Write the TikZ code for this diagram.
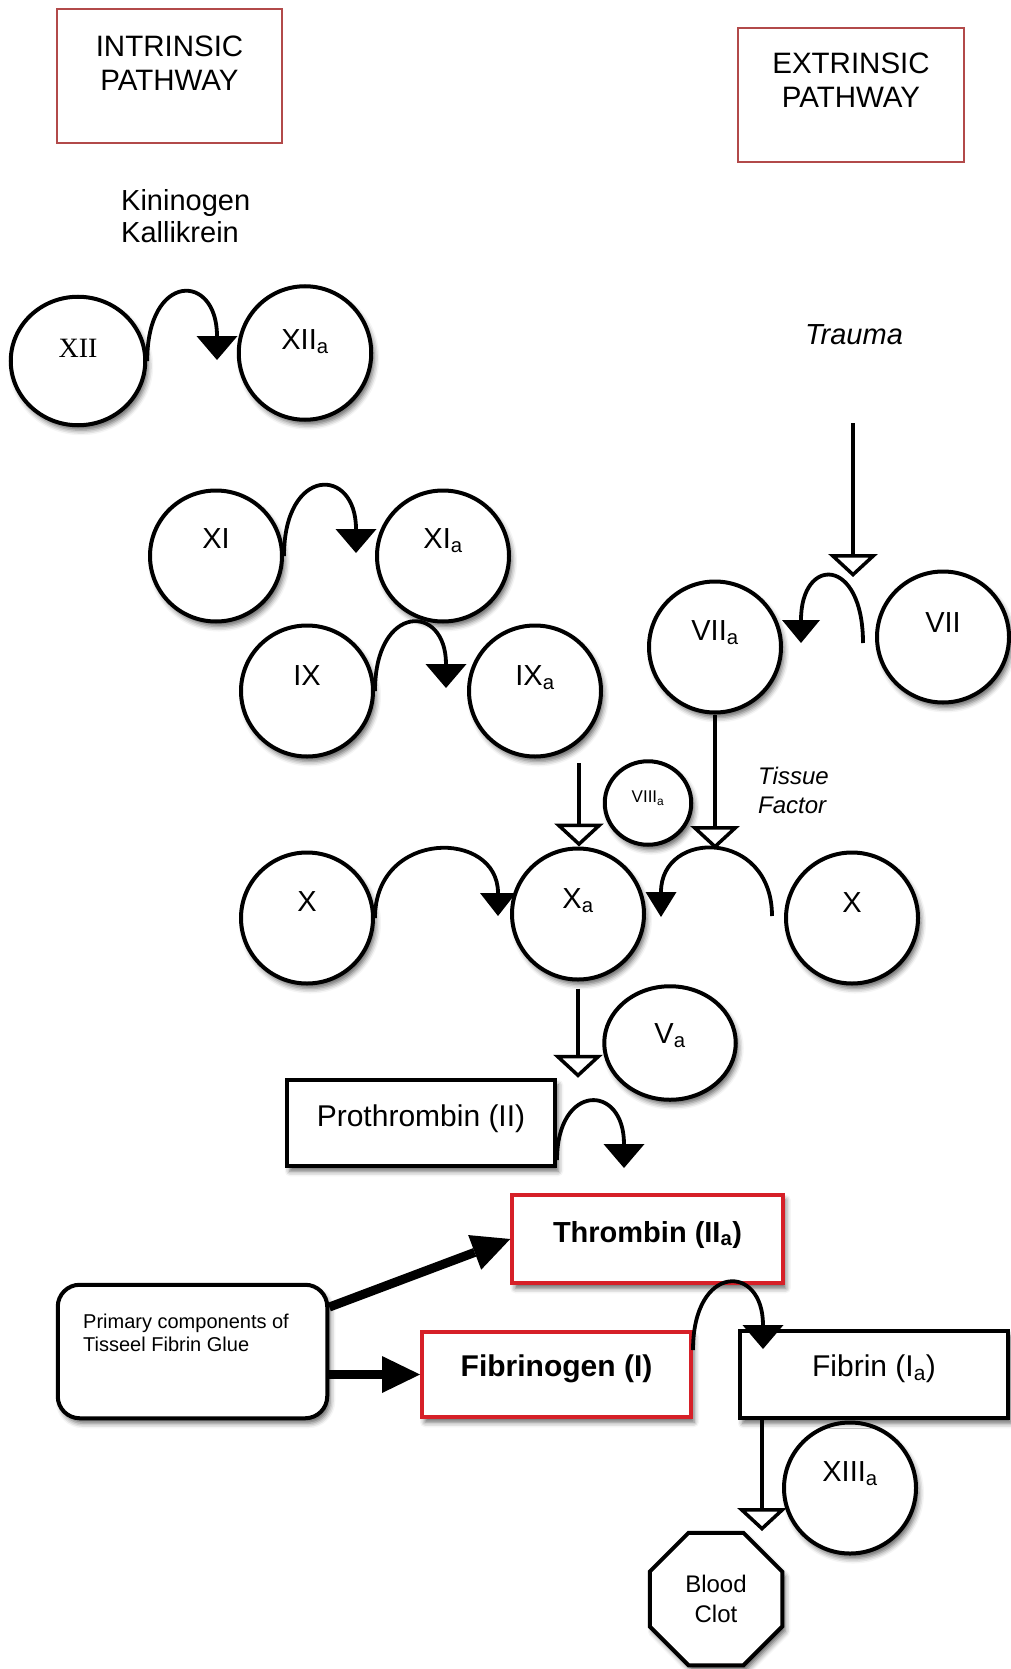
\documentclass[tikz,border=0pt]{standalone}
\usepackage{fontspec}
\setmainfont{Liberation Sans}
\newfontfamily\timesface{Liberation Serif}
\usetikzlibrary{arrows.meta,shapes.geometric,shadows.blur}
\newcommand\sbs[1]{\textsubscript{#1}}
\newcommand\fsz[2]{\fontsize{#1}{#2}\selectfont}
\definecolor{pathred}{RGB}{178,74,74}
\definecolor{gluered}{RGB}{214,32,40}
\begin{document}
\begin{tikzpicture}[x=1pt,y=-1pt,
  softsh/.style={blur shadow={shadow xshift=3pt,shadow yshift=-5pt,shadow blur radius=5pt,shadow opacity=60}},
  fac/.style={ellipse,draw,line width=4pt,fill=white,minimum width=132pt,minimum height=131pt,inner sep=0pt,softsh},
  flab/.style={font=\fsz{29}{30},text depth=0pt,inner sep=0pt},
  pathbox/.style={draw=pathred,line width=2pt,minimum width=225pt,minimum height=134pt,inner sep=0pt},
  pathtext/.style={font=\fsz{29.5}{34},align=center,inner sep=0pt},
  boxn/.style={draw,line width=4pt,fill=white,inner sep=0pt,softsh},
  conv/.style={line width=3.8pt,-{Triangle[width=41pt,length=24pt,line width=0pt]}},
  feed/.style={line width=3.5pt,-{Triangle[fill=white,width=49pt,length=23pt]}},
  glue/.style={line width=9pt,-{Triangle[width=37pt,length=38pt,line width=0pt]}},
]
\useasboundingbox (0,0) rectangle (1011,1669);

% pathway headers
\node[pathbox] (intr) at (169.5,76) {};
\node[pathtext] (intrt) at (169.5,63) {INTRINSIC\\PATHWAY};
\node[pathbox,minimum width=226pt] (extr) at (851,95) {};
\node[pathtext] (extrt) at (851,80.5) {EXTRINSIC\\PATHWAY};

\node[anchor=north west,inner sep=0pt,font=\fsz{29}{32},align=left] (kin) at (121,189) {Kininogen\\Kallikrein};
\node[inner sep=0pt,font=\itshape\fsz{29}{30}] (trauma) at (854,335) {Trauma};
\node[anchor=north west,inner sep=0pt,font=\itshape\fsz{24}{29},align=left] (tf) at (758,767) {Tissue\\Factor};

% factors
\node[fac,minimum width=134.5pt,minimum height=128.5pt,label={[flab,font=\timesface\fsz{28}{29},yshift=13pt]center:XII}] (XII) at (78,361) {};
\node[fac,minimum width=132.5pt,minimum height=133.5pt,label={[flab,yshift=13pt]center:XII\sbs{a}}] (XIIa) at (305,353) {};
\node[fac,label={[flab,yshift=17pt]center:XI}] (XI) at (216,556) {};
\node[fac,label={[flab,yshift=17pt]center:XI\sbs{a}}] (XIa) at (443,556) {};
\node[fac,label={[flab,yshift=15pt]center:IX}] (IX) at (307,691) {};
\node[fac,label={[flab,yshift=15pt]center:IX\sbs{a}}] (IXa) at (535,691) {};
\node[fac,label={[flab,yshift=16pt]center:VII\sbs{a}}] (VIIa) at (715,647) {};
\node[fac,label={[flab,yshift=14pt]center:VII}] (VII) at (943,637) {};
\node[fac,minimum width=86.5pt,minimum height=83.5pt,label={[flab,font=\fsz{17}{18},yshift=6pt]center:VIII\sbs{a}}] (VIIIa) at (648,803) {};
\node[fac,label={[flab,yshift=15pt]center:X\sbs{a}}] (Xa) at (578,914) {};
\node[fac,label={[flab,yshift=16pt]center:X}] (X) at (307,918) {};
\node[fac,label={[flab,yshift=15pt]center:X}] (Xr) at (852,918) {};
\node[fac,minimum width=131.5pt,minimum height=113.5pt,label={[flab,yshift=9pt]center:V\sbs{a}}] (Va) at (670,1043) {};
\node[fac,label={[flab,yshift=16pt]center:XIII\sbs{a}}] (XIIIa) at (850,1488) {};

% boxes
\node[boxn,minimum width=268.5pt,minimum height=86.5pt,font=\fsz{30}{31},text depth=14pt] (proth) at (421,1123) {Prothrombin (II)};
\node[boxn,draw=gluered,minimum width=270.5pt,minimum height=88.5pt,font=\bfseries\fsz{29}{30},text depth=15pt] (thr) at (647.5,1239) {Thrombin (II\sbs{a})};
\node[boxn,draw=gluered,minimum width=269pt,minimum height=85.5pt,font=\bfseries\fsz{30}{31},text depth=17pt] (fbg) at (556.5,1374.5) {Fibrinogen (I)};
\node[boxn,minimum width=268.5pt,minimum height=87.5pt,font=\fsz{30}{31},text depth=17pt] (fib) at (874,1374.5) {Fibrin (I\sbs{a})};
\node[boxn,rounded corners=22pt,minimum width=269.5pt,minimum height=133.5pt] (prim) at (192.5,1351.5) {};
\node[anchor=north west,inner sep=0pt,font=\fsz{20}{22.5},align=left] (primtxt) at (83,1314) {Primary components of\\Tisseel Fibrin Glue};
\node[boxn,regular polygon,regular polygon sides=8,minimum size=143.4pt,font=\fsz{24}{30},align=center] (clot) at (716,1599) {Blood\\Clot};

% free ends of connectors
\coordinate (t1) at (217,360);
\coordinate (t2) at (356,553);
\coordinate (t3) at (446,688);
\coordinate (s4) at (863,643);
\coordinate (t4) at (801,643);
\coordinate (t5) at (498,916);
\coordinate (s6) at (772,916);
\coordinate (t6) at (661,917);
\coordinate (s7) at (557,1160);
\coordinate (t7) at (624,1168);
\coordinate (s8) at (693,1350);
\coordinate (t8) at (763,1349);
\coordinate (c1) at (853,423);
\coordinate (t9) at (853,577);
\coordinate (c2) at (579,763);
\coordinate (t11) at (715,849);
\coordinate (t13) at (762,1531);

% conversions
\draw[conv] (XII.east) .. controls (147,272) and (217,272) .. (t1);
\draw[conv] (XI.east) .. controls (284,466) and (356,466) .. (t2);
\draw[conv] (IX.east) .. controls (375,603) and (446,603) .. (t3);
\draw[conv,-{Triangle[width=38pt,length=23pt,line width=0pt]}] (s4) .. controls (863,556) and (801,556) .. (t4);
\draw[conv,-{Triangle[width=36pt,length=23pt,line width=0pt]}] (X.east) .. controls (375,829) and (498,829) .. (t5);
\draw[conv,-{Triangle[width=31pt,length=25pt,line width=0pt]}] (s6) .. controls (772,829) and (661,829) .. (t6);
\draw[conv] (s7) .. controls (557,1083) and (624,1083) .. (t7);
\draw[conv] (s8) .. controls (693,1263) and (763,1263) .. (t8);

% cofactor feeds
\draw[feed] (c1) -- (t9);
\draw[feed] (c2) -- (c2 |- Xa.north);
\draw[feed] (VIIa.south) -- (t11);
\draw[feed] ([yshift=-7pt]Xa.south) -- (Xa.south |- proth.north);
\draw[feed] (fib.south west -| t13) -- (t13);

% glue components
\draw[glue] (prim.18) -- (thr.west);
\draw[glue] (prim.east |- fbg.west) -- (fbg.west);
\end{tikzpicture}
\end{document}
